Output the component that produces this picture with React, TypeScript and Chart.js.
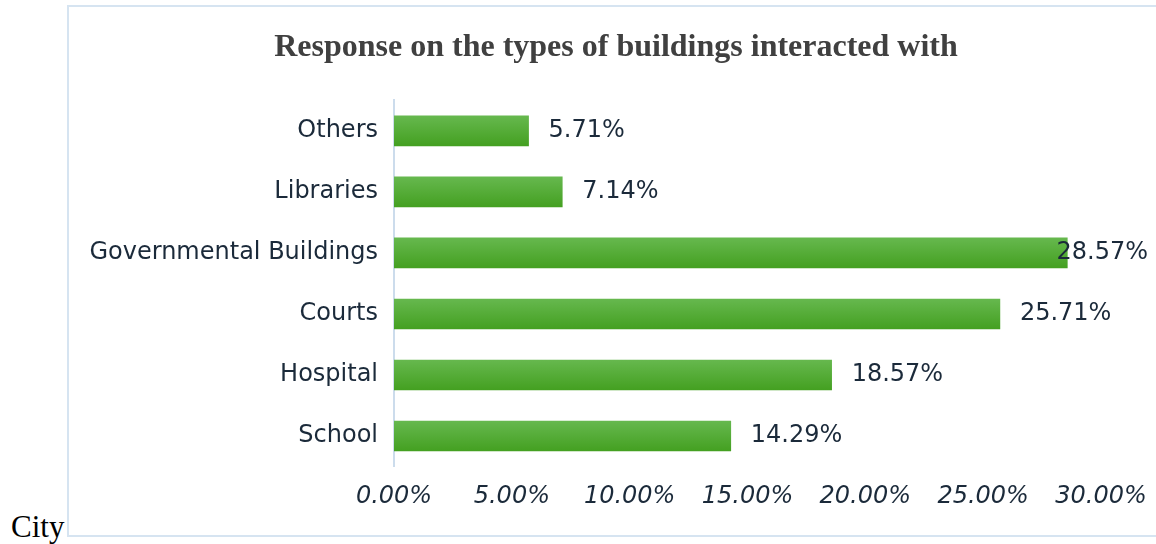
import React, { useEffect, useRef } from "react";
import { Chart, registerables } from "chart.js";
Chart.register(...registerables);

const categories = ["Others", "Libraries", "Governmental Buildings", "Courts", "Hospital", "School"];
const percentValues = [5.71, 7.14, 28.57, 25.71, 18.57, 14.29];
const xTickValues = [0, 5, 10, 15, 20, 25, 30];
const titleText = "Response on the types of buildings interacted with";
const sideText = "City";

const TEXT = "#1b2a3a";
const HAND_FONT = "'DejaVu Sans', 'Open Sans', sans-serif";
const BAR_H = 30;
const CANVAS_W = 1100;
const CANVAS_H = 528;

export default function App() {
  const ref = useRef<HTMLCanvasElement>(null);
  useEffect(() => {
    const canvas = ref.current!;
    const labelPlugin = {
      id: "valueLabels",
      afterDatasetsDraw(chart: any) {
        const ctx = chart.ctx;
        const meta = chart.getDatasetMeta(0);
        ctx.save();
        ctx.font = `24px ${HAND_FONT}`;
        ctx.fillStyle = TEXT;
        ctx.textAlign = "left";
        ctx.textBaseline = "middle";
        const limit = CANVAS_W - 21;
        meta.data.forEach((bar: any, i: number) => {
          const txt = percentValues[i].toFixed(2) + "%";
          const w = ctx.measureText(txt).width;
          let x = bar.x + 20;
          if (x + w > limit) x = limit - w;
          ctx.fillText(txt, x, bar.y);
        });
        ctx.restore();
      },
    };
    const chart = new Chart(canvas, {
      type: "bar",
      data: {
        labels: categories,
        datasets: [
          {
            data: percentValues,
            barThickness: BAR_H,
            borderWidth: 0,
            backgroundColor: (c: any) => {
              const ch = c.chart;
              const ys = ch.scales && ch.scales.y;
              if (!ys || c.dataIndex === undefined) return "#52a832";
              const yc = ys.getPixelForValue(c.dataIndex);
              if (!Number.isFinite(yc)) return "#52a832";
              const g = ch.ctx.createLinearGradient(0, yc - BAR_H / 2, 0, yc + BAR_H / 2);
              g.addColorStop(0, "#66b84e");
              g.addColorStop(1, "#44a021");
              return g;
            },
          },
        ],
      },
      options: {
        indexAxis: "y",
        responsive: false,
        animation: false,
        layout: { padding: { left: 0, right: 6, top: 0, bottom: 0 } },
        plugins: {
          legend: { display: false },
          tooltip: { enabled: false },
          title: {
            display: true,
            text: titleText,
            color: "#404040",
            font: { family: "'Liberation Serif', 'Times New Roman', serif", size: 32, weight: "bold", lineHeight: 1.2 },
            padding: { top: 21.5, bottom: 33.5 },
          },
        },
        scales: {
          x: {
            min: 0,
            max: 30,
            afterBuildTicks: (s: any) => {
              s.ticks = xTickValues.map((v) => ({ value: v }));
            },
            afterFit: (s: any) => {
              s.height = 68.5;
            },
            grid: { display: false, drawTicks: false },
            border: { display: false },
            ticks: {
              padding: 16,
              color: TEXT,
              maxRotation: 0,
              autoSkip: false,
              font: { family: HAND_FONT, size: 24, style: "italic", lineHeight: 1.2 },
              callback: (v: any) => Number(v).toFixed(2) + "%",
            },
          },
          y: {
            position: "left",
            afterFit: (s: any) => {
              s.width = 325;
            },
            grid: { display: false, drawTicks: false },
            border: { display: true, color: "#ccdcec", width: 2 },
            ticks: {
              padding: 16,
              color: TEXT,
              font: { family: HAND_FONT, size: 24, lineHeight: 1.2 },
            },
          },
          yRightSpace: {
            type: "category",
            axis: "y",
            position: "right",
            afterFit: (s: any) => {
              s.width = 62;
            },
            grid: { display: false, drawTicks: false },
            border: { display: false },
            ticks: { display: false },
          },
        },
      },
      plugins: [labelPlugin],
    });
    return () => chart.destroy();
  }, []);

  return (
    <div style={{ position: "fixed", left: 0, top: 0, width: 1156, height: 544, overflow: "hidden", background: "#fff" }}>
      <div
        style={{
          position: "absolute",
          left: 11,
          top: 511,
          fontFamily: "'Liberation Serif', 'Times New Roman', serif",
          fontSize: 31,
          lineHeight: "31px",
          color: "#000",
        }}
      >
        {sideText}
      </div>
      <div
        style={{
          position: "absolute",
          left: 67,
          top: 5,
          width: CANVAS_W,
          height: CANVAS_H,
          border: "2px solid #d6e4f1",
        }}
      >
        <canvas ref={ref} width={CANVAS_W} height={CANVAS_H} style={{ display: "block" }} />
      </div>
    </div>
  );
}
